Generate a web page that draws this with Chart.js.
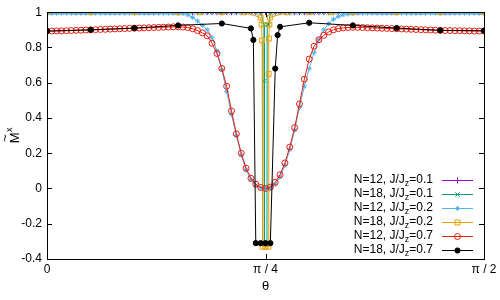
<!DOCTYPE html>
<html>
<head>
<meta charset="utf-8">
<script src="https://cdn.jsdelivr.net/npm/chart.js@4"></script>
<style>
  html, body { margin: 0; padding: 0; background: #fff; }
  #wrap { width: 500px; height: 300px; }
</style>
</head>
<body>
<div id="wrap"><canvas id="myChart"></canvas></div>
<script>
// theta in degrees (0 .. 90 = 0 .. pi/2)
const thetaN12 = [0,1,2,3,4,5,6,7,8,9,10,11,12,13,14,15,16,17,18,19,20,21,22,23,24,25,26,27,28,29,30,
  31,32,33,34,35,36,37,38,39,40,41,42,43,44,45,46,47,48,49,50,51,52,53,54,55,56,57,58,59,60,
  61,62,63,64,65,66,67,68,69,70,71,72,73,74,75,76,77,78,79,80,81,82,83,84,85,86,87,88,89,90];

// N=12, J/Jz=0.1
const n12j01 = [1,1,1,1,1,1,1,1,1,1,1,1,1,1,1,1,1,1,1,1,1,1,1,1,1,1,1,1,1,1,1,
  1,1,1,1,1,1,1,1,1,1,1,1,1,1,1,1,1,1,1,1,1,1,1,1,1,1,1,1,1,1,
  1,1,1,1,1,1,1,1,1,1,1,1,1,1,1,1,1,1,1,1,1,1,1,1,1,1,1,1,1,1];

// N=18, J/Jz=0.1
const thetaN18a = [0,1,2,3,4,5,6,7,8,9,10,11,12,13,14,15,16,17,18,19,20,21,22,23,24,25,26,27,28,29,30,
  31,32,33,34,35,36,37,38,39,40,41,42,43,44,44.7,44.75,44.8,45,45.3,45.35,45.65,
  46,47,48,49,50,51,52,53,54,55,56,57,58,59,60,
  61,62,63,64,65,66,67,68,69,70,71,72,73,74,75,76,77,78,79,80,81,82,83,84,85,86,87,88,89,90];
const n18j01 = [1,1,1,1,1,1,1,1,1,1,1,1,1,1,1,1,1,1,1,1,1,1,1,1,1,1,1,1,1,1,1,
  1,1,1,1,1,1,1,1,1,1,1,1,1,1,0.93,0.61,-0.32,-0.32,-0.32,0.93,0.93,
  1,1,1,1,1,1,1,1,1,1,1,1,1,1,1,
  1,1,1,1,1,1,1,1,1,1,1,1,1,1,1,1,1,1,1,1,1,1,1,1,1,1,1,1,1,1];

// N=12, J/Jz=0.2
const n12j02 = [0.995,0.995,0.995,0.995,0.995,0.995,0.995,0.995,0.995,0.995,0.995,0.995,0.995,0.995,0.995,0.995,
  0.995,0.995,0.995,0.995,0.995,0.995,0.995,0.995,0.995,0.995,0.995,0.994,0.992,0.985,0.97,
  0.95,0.925,0.9,0.855,0.78,0.675,0.55,0.42,0.3,0.19,0.105,0.05,0.018,0.004,0,0.005,0.025,0.065,0.13,0.22,
  0.33,0.46,0.58,0.68,0.77,0.845,0.9,0.935,0.96,0.975,
  0.985,0.99,0.993,0.995,0.995,0.995,0.995,0.995,0.995,0.995,0.995,0.995,0.995,0.995,0.995,0.995,0.995,
  0.995,0.995,0.995,0.995,0.995,0.995,0.995,0.995,0.995,0.995,0.995,0.995,0.995];

// N=18, J/Jz=0.2
const thetaN18b = [0,9,18,27,31.5,36,40.5,44,44.2,44.3,44.4,45,45.6,45.65,45.7,45.8,45.9,49.5,54,58.5,63,72,81,90];
const n18j02 = [1,1,1,1,1,1,1,0.97,0.93,0.84,-0.33,-0.33,-0.33,0.65,0.85,0.93,0.97,1,1,1,1,1,1,1];

// N=12, J/Jz=0.7
const n12j07 = [0.893,0.893,0.894,0.894,0.895,0.896,0.897,0.898,0.899,0.9,0.901,0.902,0.903,0.904,0.905,0.906,
  0.907,0.908,0.909,0.91,0.911,0.912,0.913,0.914,0.915,0.916,0.917,0.917,0.916,0.913,0.906,
  0.896,0.883,0.866,0.824,0.766,0.681,0.58,0.44,0.31,0.2,0.115,0.058,0.024,0.006,0,0.008,0.035,0.078,0.145,0.235,
  0.345,0.48,0.62,0.734,0.807,0.844,0.869,0.888,0.9,0.907,
  0.911,0.913,0.914,0.914,0.913,0.912,0.911,0.91,0.909,0.908,0.907,0.906,0.905,0.904,0.903,0.902,0.901,0.9,
  0.899,0.898,0.897,0.896,0.896,0.895,0.895,0.894,0.894,0.893,0.893,0.893];

// N=18, J/Jz=0.7
const thetaN18c = [0,9,18,27,36,42,42.5,43,44,45,46,47,47.5,48,54,63,72,81,90];
const n18j07 = [0.893,0.9,0.91,0.925,0.936,0.908,0.843,-0.31,-0.31,-0.31,-0.31,0.68,0.87,0.917,0.94,0.925,0.91,0.897,0.895];

const xTickVals = [0, 45, 90];
const xTickText = ["0", "\u03c0 / 4", "\u03c0 / 2"];
const legendText = [
  ["N=12, J/J", "z", "=0.1"],
  ["N=18, J/J", "z", "=0.1"],
  ["N=12, J/J", "z", "=0.2"],
  ["N=18, J/J", "z", "=0.2"],
  ["N=12, J/J", "z", "=0.7"],
  ["N=18, J/J", "z", "=0.7"],
];

const FONT = "Liberation Sans, Arial, sans-serif";

function pts(xs, ys) {
  return xs.map((x, i) => ({ x: x, y: ys[i] }));
}

function series(xs, ys, color, style, fill, radius, order) {
  return {
    data: pts(xs, ys),
    showLine: true,
    borderColor: color,
    borderWidth: 1,
    pointStyle: style,
    pointRadius: radius,
    pointBorderColor: color,
    pointBackgroundColor: fill,
    pointBorderWidth: 1,
    order: order,
  };
}

const datasets = [
  series(thetaN12, n12j01, "#9400d3", "cross", "#9400d3", 3, 6),
  series(thetaN18a, n18j01, "#009e73", "crossRot", "#009e73", 3, 5),
  series(thetaN12, n12j02, "#56b4e9", "star", "#56b4e9", 2.5, 4),
  series(thetaN18b, n18j02, "#e69f00", "rect", "rgba(0,0,0,0)", 3.5, 3),
  series(thetaN12, n12j07, "#e51e10", "circle", "rgba(0,0,0,0)", 3, 2),
  series(thetaN18c, n18j07, "#000000", "circle", "#000000", 2.6, 1),
];

// frame, inward ticks, legend and y title (gnuplot look)
const gnuplotLook = {
  id: "gnuplotLook",
  afterDraw(c) {
    const ctx = c.ctx;
    const a = c.chartArea;
    const xs = c.scales.x, ys = c.scales.y;
    ctx.save();
    ctx.strokeStyle = "#000";
    ctx.lineWidth = 1;
    ctx.strokeRect(Math.round(a.left) + 0.5, Math.round(a.top) + 0.5,
      Math.round(a.right - a.left), Math.round(a.bottom - a.top));
    ctx.beginPath();
    xs.ticks.forEach((t) => {
      const px = Math.round(xs.getPixelForValue(t.value)) + 0.5;
      ctx.moveTo(px, a.bottom); ctx.lineTo(px, a.bottom - 5);
      ctx.moveTo(px, a.top); ctx.lineTo(px, a.top + 5);
    });
    ys.ticks.forEach((t) => {
      const py = Math.round(ys.getPixelForValue(t.value)) + 0.5;
      ctx.moveTo(a.left, py); ctx.lineTo(a.left + 5, py);
      ctx.moveTo(a.right, py); ctx.lineTo(a.right - 5, py);
    });
    ctx.stroke();

    // legend, gnuplot style: text right aligned, sample to the right
    const textRight = a.right - 51;
    const lineL = a.right - 42, lineR = a.right - 11;
    const rowH = 13.9;
    const y0 = a.bottom - 79;
    ctx.textBaseline = "middle";
    legendText.forEach((parts, i) => {
      const y = y0 + i * rowH;
      const ds = datasets[i];
      ctx.font = "12px " + FONT;
      const w1 = ctx.measureText(parts[0]).width;
      const w3 = ctx.measureText(parts[2]).width;
      ctx.font = "9px " + FONT;
      const w2 = ctx.measureText(parts[1]).width;
      let x = textRight - w1 - w2 - w3;
      ctx.fillStyle = "#000";
      ctx.textAlign = "left";
      ctx.font = "12px " + FONT;
      ctx.fillText(parts[0], x, y);
      x += w1;
      ctx.font = "9px " + FONT;
      ctx.fillText(parts[1], x, y + 4);
      x += w2;
      ctx.font = "12px " + FONT;
      ctx.fillText(parts[2], x, y);

      const ly = Math.round(y) + 0.5;
      ctx.strokeStyle = ds.borderColor;
      ctx.lineWidth = 1;
      ctx.beginPath();
      ctx.moveTo(lineL, ly); ctx.lineTo(lineR, ly);
      ctx.stroke();
      ctx.fillStyle = ds.pointBackgroundColor;
      ctx.strokeStyle = ds.pointBorderColor;
      Chart.helpers.drawPoint(ctx, {
        pointStyle: ds.pointStyle,
        radius: ds.pointRadius,
        borderWidth: 1,
        rotation: 0,
      }, (lineL + lineR) / 2, ly);
    });
    ctx.restore();

    // y title: M with tilde, superscript x, rotated
    ctx.save();
    ctx.translate(14, (a.top + a.bottom) / 2);
    ctx.rotate(-Math.PI / 2);
    ctx.fillStyle = "#000";
    ctx.textBaseline = "alphabetic";
    ctx.textAlign = "left";
    ctx.font = "13px " + FONT;
    const mw = ctx.measureText("M").width;
    ctx.font = "9px " + FONT;
    const xw = ctx.measureText("x").width;
    const start = -(mw + xw) / 2;
    ctx.font = "13px " + FONT;
    ctx.fillText("M", start, 5);
    ctx.fillText("~", start + mw / 2 - ctx.measureText("~").width / 2, -5);
    ctx.font = "9px " + FONT;
    ctx.fillText("x", start + mw + 0.5, -2);
    ctx.restore();
  },
};

new Chart(document.getElementById("myChart"), {
  type: "scatter",
  data: { datasets },
  options: {
    responsive: true,
    maintainAspectRatio: false,
    animation: false,
    layout: { padding: { top: 10, right: 16, left: 0, bottom: 0 } },
    plugins: {
      legend: { display: false },
      tooltip: { enabled: false },
    },
    scales: {
      x: {
        type: "linear",
        min: 0,
        max: 90,
        afterBuildTicks: (s) => { s.ticks = xTickVals.map((v) => ({ value: v })); },
        afterFit: (s) => { s.height = 41; },
        grid: { display: false, drawTicks: false },
        border: { display: false },
        ticks: {
          padding: 3,
          color: "#000",
          font: { family: FONT, size: 12 },
          maxRotation: 0,
          callback: (v) => xTickText[xTickVals.indexOf(v)],
        },
        title: {
          display: true,
          text: "\u03b8",
          color: "#000",
          font: { family: FONT, size: 13 },
          padding: { top: 0, bottom: 6 },
        },
      },
      y: {
        min: -0.4,
        max: 1,
        afterFit: (s) => { s.width = 47; },
        grid: { display: false, drawTicks: false },
        border: { display: false },
        ticks: {
          stepSize: 0.2,
          padding: 5,
          color: "#000",
          font: { family: FONT, size: 12 },
          callback: (v) => String(Math.round(v * 10) / 10),
        },
      },
    },
  },
  plugins: [gnuplotLook],
});
</script>
</body>
</html>
